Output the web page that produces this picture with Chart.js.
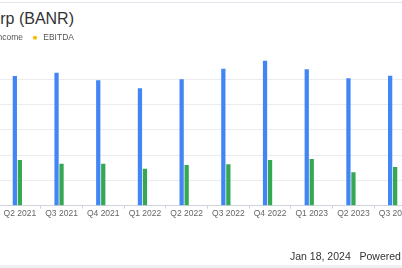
<!DOCTYPE html>
<html>
<head>
<meta charset="utf-8">
<script src="https://cdn.jsdelivr.net/npm/chart.js@4"></script>
<style>
  html, body { margin: 0; padding: 0; background: #fff; }
  body { width: 402px; height: 268px; overflow: hidden; position: relative; font-family: "Liberation Sans", Arial, sans-serif; }
  #topline { position: absolute; left: 0; top: 2px; width: 402px; height: 1px; background: #e3e3eb; }
  #title { position: absolute; right: 328px; top: 10px; font-size: 16px; line-height: 18px; color: #333; white-space: nowrap; }
  #wrap { position: absolute; left: -95px; top: 0; width: 511px; height: 268px; }
  #footer { position: absolute; left: 290px; top: 249.5px; font-size: 10.5px; line-height: 12px; color: #333; white-space: nowrap; }
  #bottomband { position: absolute; left: 0; top: 265px; width: 402px; height: 3px; background: #eef0f3; }
</style>
</head>
<body>
<div id="topline"></div>
<div id="title">Banner Corp (BANR)</div>
<div id="wrap"><canvas id="bar-chart"></canvas></div>
<div id="footer">Jan 18, 2024&nbsp;&nbsp;&nbsp;Powered by GuruFocus</div>
<div id="bottomband"></div>
<script>
// quarterly values, $M
const quarters = ['Q2 2021', 'Q3 2021', 'Q4 2021', 'Q1 2022', 'Q2 2022',
                  'Q3 2022', 'Q4 2022', 'Q1 2023', 'Q2 2023', 'Q3 2023'];
const revenue = [179.6, 184.1, 173.6, 162.5, 175.0, 189.7, 200.7, 188.8, 176.4, 180.0];
const netIncome = [63.3, 58.1, 58.1, 51.2, 56.3, 57.3, 63.3, 64.7, 46.2, 53.6];
const ebitda = [null, null, null, null, null, null, null, null, null, null];
const yStep = 35;
const yTop = 212.8;

const font = "'Liberation Sans', Arial, sans-serif";

const ctx = document.getElementById('bar-chart');
new Chart(ctx, {
    type: 'bar',
    data: {
        labels: quarters,
        datasets: [
            { label: 'Revenue', data: revenue, backgroundColor: '#4285f4' },
            { label: 'Net Income', data: netIncome, backgroundColor: '#34a853' },
            { label: 'EBITDA', data: ebitda, backgroundColor: '#fbbc05' }
        ]
    },
    options: {
        responsive: true,
        maintainAspectRatio: false,
        animation: false,
        layout: { padding: { top: 25.5, bottom: 49.1, left: 0, right: 0 } },
        datasets: { bar: { categoryPercentage: 0.36, barPercentage: 0.85 } },
        plugins: {
            tooltip: { enabled: false },
            legend: {
                align: 'start',
                labels: {
                    usePointStyle: true,
                    pointStyle: 'circle',
                    boxWidth: 8,
                    boxHeight: 3,
                    padding: 8,
                    color: '#555',
                    font: { size: 8.5, family: font }
                }
            }
        },
        scales: {
            x: {
                grid: { display: true, drawOnChartArea: false, tickLength: 3, color: '#d0d4dc' },
                border: { color: '#d0d4dc' },
                ticks: { padding: 0, color: '#666', autoSkip: false, maxRotation: 0, font: { size: 8.5, family: font } }
            },
            y: {
                min: 0,
                max: yTop,
                ticks: { display: false, stepSize: yStep },
                grid: { color: '#ececf0', drawTicks: false },
                border: { display: false },
                afterFit: function (s) { s.width = 94; },
                afterBuildTicks: function (s) {
                    s.ticks = s.ticks.filter(function (t) { return t.value % yStep === 0; });
                }
            }
        }
    }
});
</script>
</body>
</html>
